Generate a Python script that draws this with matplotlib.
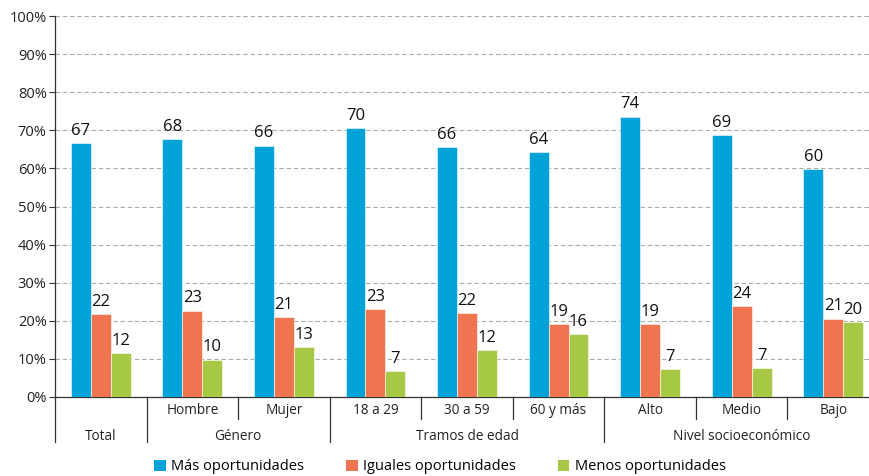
import matplotlib
matplotlib.use("Agg")
import matplotlib.pyplot as plt
from matplotlib.patches import Patch
import numpy as np

plt.rcParams['font.family'] = ['Open Sans', 'DejaVu Sans']

sub_labels = ["", "Hombre", "Mujer", "18 a 29", "30 a 59", "60 y más", "Alto", "Medio", "Bajo"]
groups = [("Total", 0, 1), ("Género", 1, 3), ("Tramos de edad", 3, 6), ("Nivel socioeconómico", 6, 9)]
series_names = ["Más oportunidades", "Iguales oportunidades", "Menos oportunidades"]
mas = [66.7, 67.6, 66.0, 70.5, 65.6, 64.3, 73.6, 68.7, 59.8]
iguales = [21.8, 22.7, 21.0, 23.0, 22.0, 19.1, 19.1, 23.9, 20.6]
menos = [11.6, 9.8, 13.1, 6.7, 12.4, 16.5, 7.3, 7.5, 19.6]
lab_mas = [67, 68, 66, 70, 66, 64, 74, 69, 60]
lab_iguales = [22, 23, 21, 23, 22, 19, 19, 24, 21]
lab_menos = [12, 10, 13, 7, 12, 16, 7, 7, 20]
colors = ["#00A3D7", "#EF7551", "#A6C844"]

W, H = 870, 476
fig = plt.figure(figsize=(W / 100, H / 100), dpi=100)
ax = fig.add_axes([55 / W, 1 - 397 / H, (879 - 55) / W, (397 - 16) / H])

n = len(sub_labels)
x = np.arange(n)
bw = 0.218
for k, (vals, labs) in enumerate([(mas, lab_mas), (iguales, lab_iguales), (menos, lab_menos)]):
    pos = x + (k - 1) * bw
    ax.bar(pos, vals, width=bw, color=colors[k], edgecolor='white', linewidth=0.4, zorder=3)
    for p, v, l in zip(pos, vals, labs):
        ax.annotate(str(l), (p, v), xytext=(0, 3), textcoords='offset points',
                    ha='center', va='bottom', fontsize=12, color='#111111', zorder=4)

ax.set_xlim(-0.5, n - 0.5)
ax.set_ylim(0, 100)
ax.set_yticks(np.arange(0, 101, 10))
ax.set_yticklabels([f"{v}%" for v in range(0, 101, 10)], fontsize=10.5, color='#222222')
ax.yaxis.grid(True, linestyle=(0, (4, 2.5)), color='#AAAAAA', linewidth=0.8, zorder=0)
ax.set_axisbelow(True)
ax.tick_params(axis='y', length=4, width=0.8, color='#333333', pad=2)
ax.set_xticks([])
for s in ['top', 'right']:
    ax.spines[s].set_visible(False)
ax.spines['left'].set_color('#333333')
ax.spines['bottom'].set_color('#333333')
ax.spines['left'].set_linewidth(0.9)
ax.spines['bottom'].set_linewidth(0.9)

trans = ax.get_xaxis_transform()
def ypix(py):
    return (397 - py) / (397 - 16)
short_bottom = ypix(419)
long_bottom = ypix(442)
group_edges = set([g[1] for g in groups] + [groups[-1][2]])
for i in range(n + 1):
    xe = i - 0.5
    yb = long_bottom if i in group_edges else short_bottom
    ax.plot([xe, xe], [0, yb], transform=trans, color='#333333', lw=0.9, clip_on=False)
for i, lbl in enumerate(sub_labels):
    if lbl:
        ax.text(i, ypix(410), lbl, transform=trans, ha='center', va='center', fontsize=9.8, color='#222222')
for name, a, b in groups:
    ax.text((a + b - 1) / 2, ypix(436), name, transform=trans, ha='center', va='center', fontsize=9.8, color='#222222')

handles = [Patch(facecolor=c, edgecolor='none') for c in colors]
fig.legend(handles, series_names, loc='center', bbox_to_anchor=(440 / W, 1 - 467 / H), ncol=3,
           frameon=False, fontsize=10.5, handlelength=0.82, handleheight=0.82, handletextpad=0.35,
           columnspacing=2.85)

fig.savefig("out.png", dpi=100)
